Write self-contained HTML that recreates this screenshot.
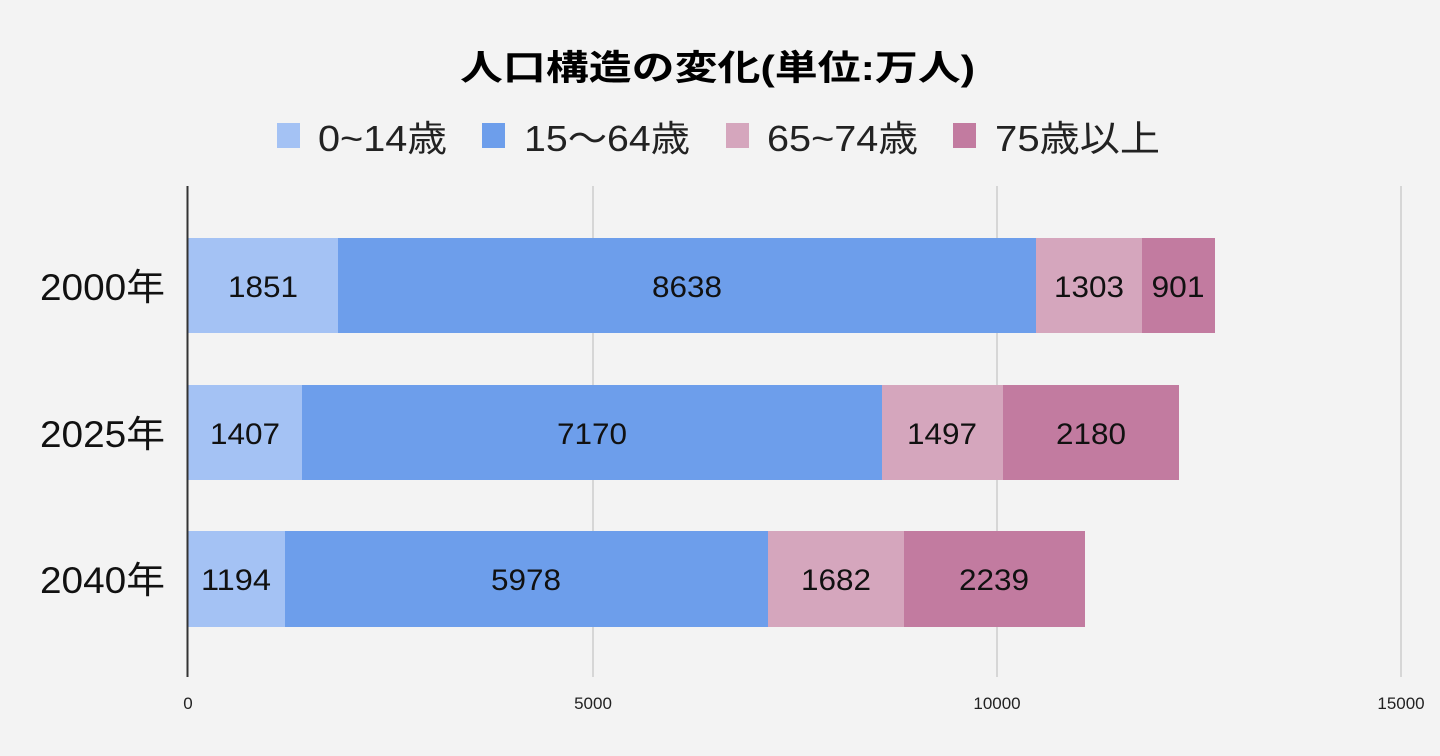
<!DOCTYPE html>
<html><head><meta charset="utf-8"><style>
html,body{margin:0;padding:0;background:#f3f3f3;}
svg{display:block;font-family:"Liberation Sans","Noto Sans CJK JP",sans-serif;}
</style></head><body>
<svg width="1440" height="756" xmlns="http://www.w3.org/2000/svg">
<rect width="1440" height="756" fill="#f3f3f3"/>
<text x="460" y="80" font-size="35" font-weight="bold" fill="#000" textLength="515" lengthAdjust="spacingAndGlyphs">人口構造の変化(単位:万人)</text>
<rect x="277" y="123" width="23" height="25" fill="#a4c2f4"/>
<text x="318" y="151" font-size="36" fill="#222" textLength="129" lengthAdjust="spacingAndGlyphs">0~14歳</text>
<rect x="482" y="123" width="23" height="25" fill="#6d9eeb"/>
<text x="524" y="151" font-size="36" fill="#222" textLength="166" lengthAdjust="spacingAndGlyphs">15～64歳</text>
<rect x="726" y="123" width="23" height="25" fill="#d5a6bd"/>
<text x="767" y="151" font-size="36" fill="#222" textLength="151" lengthAdjust="spacingAndGlyphs">65~74歳</text>
<rect x="953" y="123" width="23" height="25" fill="#c27ba0"/>
<text x="995" y="151" font-size="36" fill="#222" textLength="165" lengthAdjust="spacingAndGlyphs">75歳以上</text>
<g stroke="#cccccc" stroke-width="1.5">
<line x1="593" y1="186" x2="593" y2="677"/>
<line x1="997" y1="186" x2="997" y2="677"/>
<line x1="1401" y1="186" x2="1401" y2="677"/>
</g>
<g font-size="30" fill="#111" text-anchor="middle" lengthAdjust="spacingAndGlyphs">
<rect x="188" y="238" width="150" height="95" fill="#a4c2f4"/>
<rect x="338" y="238" width="698" height="95" fill="#6d9eeb"/>
<rect x="1036" y="238" width="106" height="95" fill="#d5a6bd"/>
<rect x="1142" y="238" width="73" height="95" fill="#c27ba0"/>
<text x="263" y="297" textLength="70" lengthAdjust="spacingAndGlyphs">1851</text><text x="687" y="297" textLength="70" lengthAdjust="spacingAndGlyphs">8638</text><text x="1089" y="297" textLength="70" lengthAdjust="spacingAndGlyphs">1303</text><text x="1178" y="297" textLength="53" lengthAdjust="spacingAndGlyphs">901</text>
<rect x="188" y="385" width="114" height="95" fill="#a4c2f4"/>
<rect x="302" y="385" width="580" height="95" fill="#6d9eeb"/>
<rect x="882" y="385" width="121" height="95" fill="#d5a6bd"/>
<rect x="1003" y="385" width="176" height="95" fill="#c27ba0"/>
<text x="245" y="444" textLength="70" lengthAdjust="spacingAndGlyphs">1407</text><text x="592" y="444" textLength="70" lengthAdjust="spacingAndGlyphs">7170</text><text x="942" y="444" textLength="70" lengthAdjust="spacingAndGlyphs">1497</text><text x="1091" y="444" textLength="70" lengthAdjust="spacingAndGlyphs">2180</text>
<rect x="188" y="531" width="97" height="96" fill="#a4c2f4"/>
<rect x="285" y="531" width="483" height="96" fill="#6d9eeb"/>
<rect x="768" y="531" width="136" height="96" fill="#d5a6bd"/>
<rect x="904" y="531" width="181" height="96" fill="#c27ba0"/>
<text x="236" y="590" textLength="70" lengthAdjust="spacingAndGlyphs">1194</text><text x="526" y="590" textLength="70" lengthAdjust="spacingAndGlyphs">5978</text><text x="836" y="590" textLength="70" lengthAdjust="spacingAndGlyphs">1682</text><text x="994" y="590" textLength="70" lengthAdjust="spacingAndGlyphs">2239</text>
</g>
<line x1="187.5" y1="186" x2="187.5" y2="677" stroke="#333" stroke-width="2"/>
<g font-size="37" fill="#111">
<text x="40" y="300" textLength="125" lengthAdjust="spacingAndGlyphs">2000年</text>
<text x="40" y="447" textLength="125" lengthAdjust="spacingAndGlyphs">2025年</text>
<text x="40" y="593" textLength="125" lengthAdjust="spacingAndGlyphs">2040年</text>
</g>
<g font-size="17" fill="#222" text-anchor="middle">
<text x="188" y="709">0</text>
<text x="593" y="709">5000</text>
<text x="997" y="709">10000</text>
<text x="1401" y="709">15000</text>
</g>
</svg>
</body></html>
